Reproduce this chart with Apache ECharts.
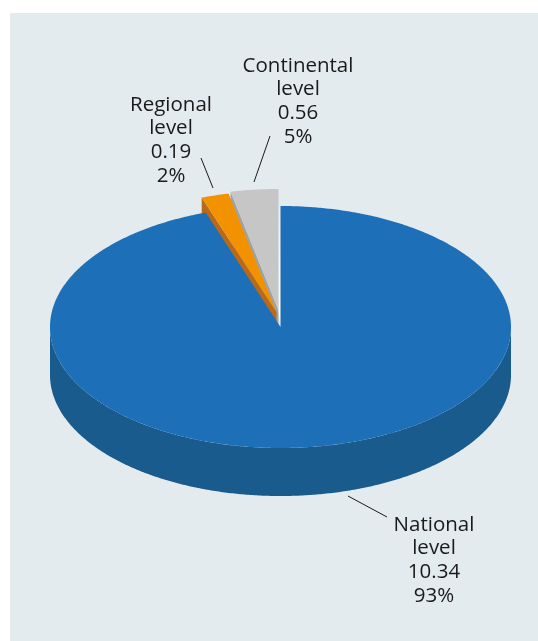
<!DOCTYPE html>
<html><head><meta charset="utf-8">
<style>html,body{margin:0;padding:0;background:#fff}#c{width:538px;height:641px}</style>
<script src="https://cdn.jsdelivr.net/npm/echarts@6/dist/echarts.min.js"></script>
</head><body><div id="c"></div>
<script>
const categories = ['Continental level', 'Regional level', 'National level'];
const values = [0.56, 0.19, 10.34];
const valueLabels = ['0.56', '0.19', '10.34'];

const topColors = ['#c6c6c6', '#f39200', '#1d70b8'];
const sideColors = ['#9ea3a7', '#b8691a', '#185b8c'];
const labelLines = [[[270,136],[254,182]], [[201,158],[213,188]], [[348,496],[387,517]]];
const labelAnchors = [[298,54], [171,93], [434,513]];
const explodes = [[-2,-17], [-4,-15], [0,0]];

const CX = 280.5, CY = 327, RX = 230.5, RY = 121, DEPTH = 48;
const warpFrom = [0, 18.2, 24.4, 360], warpTo = [0, 12, 19, 360];
function warp(t){
  for (let i = 1; i < warpFrom.length; i++) if (t <= warpFrom[i] + 1e-9) {
    return warpTo[i-1] + (t-warpFrom[i-1])*(warpTo[i]-warpTo[i-1])/(warpFrom[i]-warpFrom[i-1]);
  }
  return t;
}
function pt(deg, dx, dy){
  const a = deg*Math.PI/180;
  return [CX + dx - RX*Math.sin(a), CY + dy - RY*Math.cos(a)];
}
function arc(from, to, dx, dy){
  const p = []; const n = Math.max(2, Math.ceil((to-from)*2));
  for (let i = 0; i <= n; i++) p.push(pt(from + (to-from)*i/n, dx, dy));
  return p;
}
const total = values.reduce((a,b)=>a+b,0);
const starts = []; values.reduce((acc,v,i)=>{starts[i]=acc; return acc+v;},0);

function renderItem(params, api){
  const i = params.dataIndex, v = api.value(0);
  const from = warp(starts[i]/total*360), to = warp((starts[i]+v)/total*360);
  const [dx,dy] = explodes[i];
  const apex = [CX+dx, CY+dy];
  const top = arc(from, to, dx, dy).concat([apex]);
  const children = [];
  const style = c => ({fill:c, stroke:null});
  if (to-from > 180) {
    const low = arc(90, 270, dx, dy+DEPTH);
    const up = arc(90, 270, dx, dy).reverse();
    children.push({type:'polygon', shape:{points:low.concat(up)}, style:style(sideColors[i])});
  } else {
    const o = pt(to, dx, dy);
    children.push({type:'polygon', shape:{points:[o, apex, [apex[0],apex[1]+DEPTH], [o[0],o[1]+DEPTH]]}, style:style(sideColors[i])});
    if (from === 0) {
      // pale sliver left where the wedge has been pulled out of the drum
      const s = pt(from, 0, 0);
      children.push({type:'polygon', shape:{points:[[s[0]-2.5,s[1]],[s[0]+0.5,s[1]],[CX+0.5,CY+1],apex]},
        style:{stroke:null, fill:new echarts.graphic.LinearGradient(0,0,0,1,[{offset:0,color:'#e9eef1'},{offset:0.5,color:'#f6f8f9'},{offset:1,color:'#ffffff'}])}});
    }
  }
  children.push({type:'polygon', shape:{points:top}, style:style(topColors[i])});
  return {type:'group', children};
}

const textFont = '"Open Sans", "Noto Sans", sans-serif';
const graphics = [{type:'rect', z:-1, shape:{x:10,y:13,width:528,height:628}, style:{fill:'#e4ebef'}}];
categories.forEach((c,i)=>{
  const pct = Math.round(values[i]/total*100)+'%';
  const words = c.split(' ');
  graphics.push({type:'polyline', z:5, shape:{points:labelLines[i]}, style:{stroke:'#1a1a1a', lineWidth:1, fill:null}});
  graphics.push({type:'text', z:5, x:labelAnchors[i][0], y:labelAnchors[i][1], style:{
    text:[words[0],words[1],valueLabels[i],pct].join('\n'),
    font:'20.5px '+textFont, lineHeight:23.7, fill:'#1a1a1a', align:'center', verticalAlign:'top'}});
});

const chart = echarts.init(document.getElementById('c'));
chart.setOption({
  animation:false,
  graphic:graphics,
  series:[{type:'custom', coordinateSystem:'none', renderItem, silent:true,
    data:values.map((v,i)=>({name:categories[i], value:[v]}))}]
});
</script></body></html>
